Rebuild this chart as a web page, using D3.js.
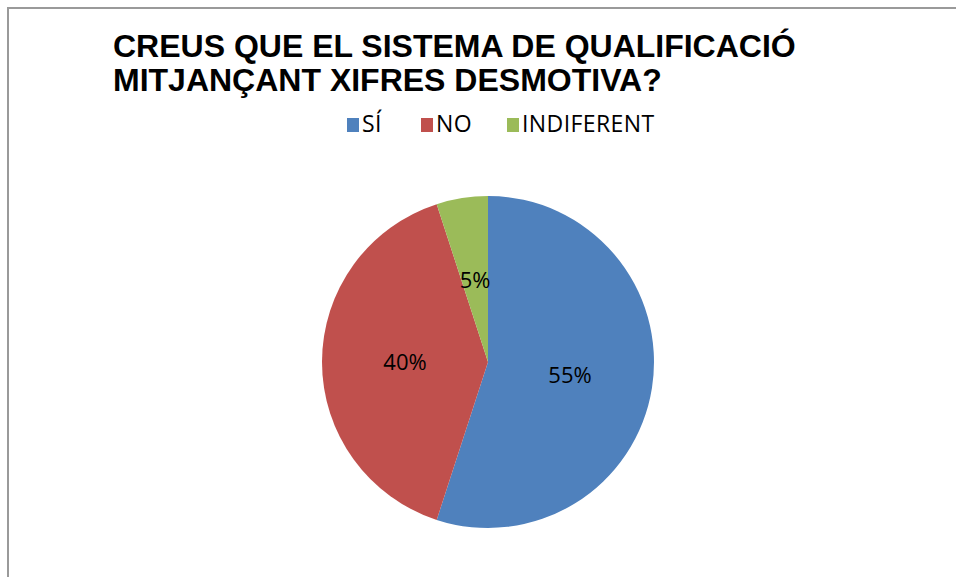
<!DOCTYPE html>
<html>
<head>
<meta charset="utf-8">
<script src="https://cdn.jsdelivr.net/npm/d3@7"></script>
<style>
  html, body { margin: 0; padding: 0; background: #fff; }
  svg { display: block; }
</style>
</head>
<body>
<div id="chart"></div>
<script>
const titleLines = ["CREUS QUE EL SISTEMA DE QUALIFICACIÓ", "MITJANÇANT XIFRES DESMOTIVA?"];
const categories = ["SÍ", "NO", "INDIFERENT"];
const values = [55, 40, 5];
const colors = ["#4F81BD", "#C0504D", "#9BBB59"];

const width = 956;
const height = 577;
const radius = 166;
const cx = 488;
const cy = 362;

const svg = d3.select("#chart")
  .append("svg")
  .attr("width", width)
  .attr("height", height);

// chart frame (only top and left edges are visible in the crop)
svg.append("path")
  .attr("d", `M8,${height} V8 H${width}`)
  .attr("fill", "none")
  .attr("stroke", "#9a9a9a")
  .attr("stroke-width", 2);

// title
svg.append("g")
  .selectAll("text")
  .data(titleLines)
  .enter()
  .append("text")
  .attr("x", 113)
  .attr("y", (d, i) => 57 + i * 34)
  .attr("font-family", "'Liberation Sans', Arial, sans-serif")
  .attr("font-weight", "bold")
  .attr("font-size", "32px")
  .attr("fill", "#000")
  .text(d => d);

// legend
const legendX = [0, 74, 160];
const legend = svg.append("g").attr("transform", "translate(347, 118)");
categories.forEach((c, i) => {
  const item = legend.append("g").attr("transform", `translate(${legendX[i]}, 0)`);
  item.append("rect")
    .attr("width", 12)
    .attr("height", 14)
    .attr("fill", colors[i]);
  item.append("text")
    .attr("x", 15)
    .attr("y", 14)
    .attr("font-family", "'Open Sans', sans-serif")
    .attr("font-size", "23px")
    .attr("letter-spacing", "0.4px")
    .attr("fill", "#000")
    .text(c);
});

// pie
const pie = d3.pie().sort(null).value(d => d);
const arc = d3.arc().innerRadius(0).outerRadius(radius);

const g = svg.append("g").attr("transform", `translate(${cx}, ${cy})`);
const arcs = g.selectAll(".arc")
  .data(pie(values))
  .enter()
  .append("g")
  .attr("class", "arc");

arcs.append("path")
  .attr("d", arc)
  .attr("fill", (d, i) => colors[i]);

arcs.append("text")
  .attr("transform", d => `translate(${arc.centroid(d)})`)
  .attr("text-anchor", "middle")
  .attr("dy", "0.36em")
  .attr("font-family", "'Open Sans', sans-serif")
  .attr("font-size", "22px")
  .attr("fill", "#000")
  .text(d => d.value + "%");
</script>
</body>
</html>
